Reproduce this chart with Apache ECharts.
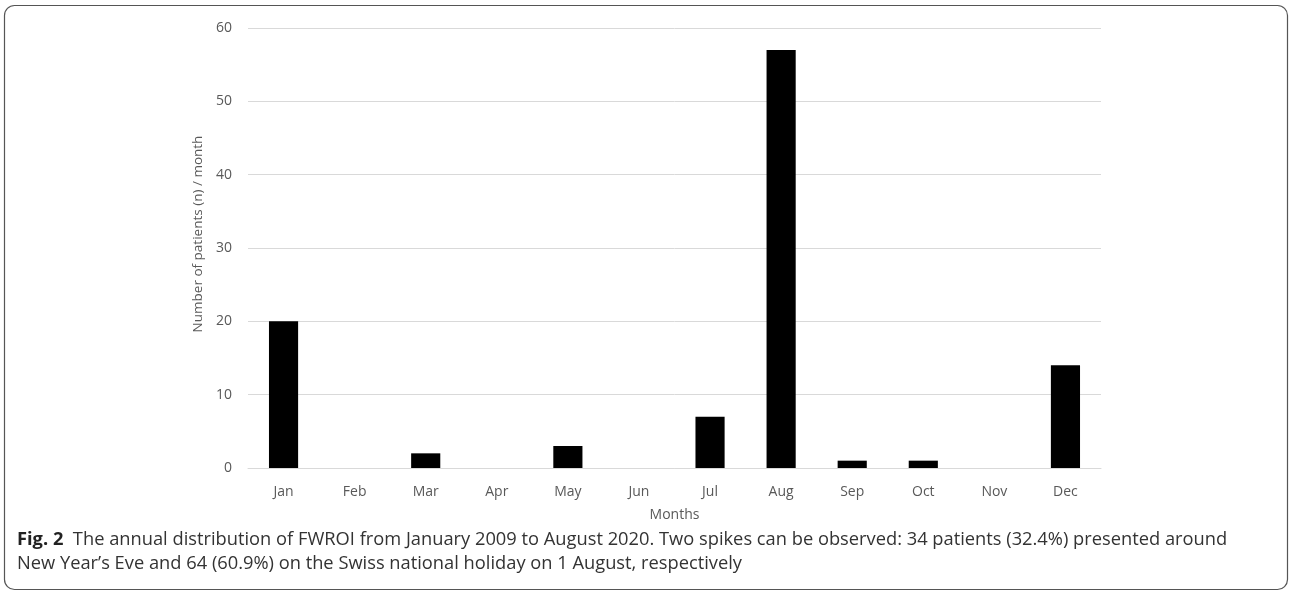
<!DOCTYPE html>
<html><head><meta charset="utf-8">
<script src="https://cdn.jsdelivr.net/npm/echarts@6/dist/echarts.min.js"></script>
<style>html,body{margin:0;padding:0;background:#fff}#c{width:1290px;height:592px}</style>
</head><body><div id="c"></div>
<script>
const categories = ['Jan','Feb','Mar','Apr','May','Jun','Jul','Aug','Sep','Oct','Nov','Dec'];
const patients = [20, 0, 2, 0, 3, 0, 7, 57, 1, 1, 0, 14];
const yTicks = {min: 0, max: 60, interval: 10};
const yAxisTitle = 'Number of patients (n) / month';
const xAxisTitle = 'Months';
const captionBold = 'Fig. 2';
const captionLine1 = 'The annual distribution of FWROI from January 2009 to August 2020. Two spikes can be observed: 34 patients (32.4%) presented around';
const captionLine2 = 'New Year\u2019s Eve and 64 (60.9%) on the Swiss national holiday on 1 August, respectively';

const chart = echarts.init(document.getElementById('c'));
const font = '"Open Sans", sans-serif';
chart.setOption({
  animation: false,
  grid: {left: 248, right: 189, top: 28, bottom: 124},
  xAxis: {
    type: 'category', data: categories,
    name: xAxisTitle, nameLocation: 'middle', nameGap: 40,
    nameTextStyle: {color: '#595959', fontSize: 14, fontFamily: font},
    axisLine: {lineStyle: {color: '#d9d9d9'}},
    axisTick: {show: false},
    axisLabel: {color: '#595959', fontSize: 14, fontFamily: font, margin: 17}
  },
  yAxis: {
    type: 'value', min: yTicks.min, max: yTicks.max, interval: yTicks.interval,
    name: yAxisTitle, nameLocation: 'middle', nameGap: 37, nameRotate: 90,
    nameTextStyle: {color: '#595959', fontSize: 13.5, fontFamily: font, padding: [0, 0, 0, 28]},
    axisLine: {show: false}, axisTick: {show: false},
    splitLine: {lineStyle: {color: '#d9d9d9'}},
    axisLabel: {color: '#595959', fontSize: 14, fontFamily: font, margin: 16}
  },
  series: [{
    type: 'bar', data: patients, barWidth: '41%',
    itemStyle: {color: '#000'}
  }],
  graphic: [
    {type: 'rect', shape: {x: 4.5, y: 5.5, width: 1283, height: 584, r: 10},
     style: {fill: 'none', stroke: '#555', lineWidth: 1.2}, z: 10},
    {type: 'text', left: 17, top: 531, z: 10,
     style: {text: '{b|' + captionBold + '}  ' + captionLine1, fontSize: 18.3, fontFamily: font, fill: '#333',
       rich: {b: {fontWeight: 'bold', fontSize: 18.3, fontFamily: font, fill: '#222'}}}},
    {type: 'text', left: 17, top: 555, z: 10,
     style: {text: captionLine2, fontSize: 18.3, fontFamily: font, fill: '#333'}}
  ]
});
</script></body></html>
